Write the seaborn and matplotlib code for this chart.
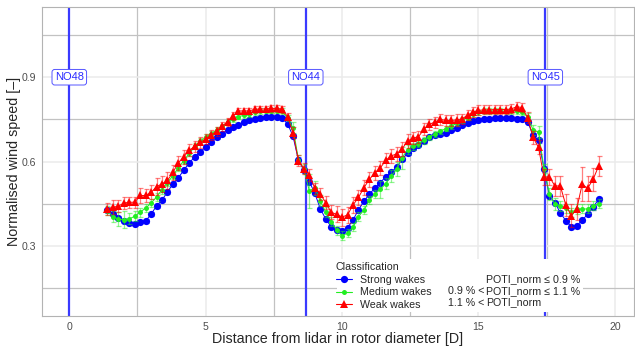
import numpy as np
import pandas as pd
import matplotlib
matplotlib.use("Agg")
import matplotlib.pyplot as plt
import seaborn as sns
from matplotlib.lines import Line2D
from matplotlib.patches import Rectangle

# ---------------- data ----------------
distance = [1.4, 1.6, 1.8, 2.0, 2.2, 2.4, 2.6, 2.8, 3.0, 3.2,
            3.4, 3.6, 3.8, 4.0, 4.2, 4.4, 4.6, 4.8, 5.0, 5.2,
            5.4, 5.6, 5.8, 6.0, 6.2, 6.4, 6.6, 6.8, 7.0, 7.2,
            7.4, 7.6, 7.8, 8.0, 8.2, 8.4, 8.6, 8.8, 9.0, 9.2,
            9.4, 9.6, 9.8, 10.0, 10.2, 10.4, 10.6, 10.8, 11.0, 11.2,
            11.4, 11.6, 11.8, 12.0, 12.2, 12.4, 12.6, 12.8, 13.0, 13.2,
            13.4, 13.6, 13.8, 14.0, 14.2, 14.4, 14.6, 14.8, 15.0, 15.2,
            15.4, 15.6, 15.8, 16.0, 16.2, 16.4, 16.6, 16.8, 17.0, 17.2,
            17.4, 17.6, 17.8, 18.0, 18.2, 18.4, 18.6, 18.8, 19.0, 19.2,
            19.4]

strong = [0.427, 0.413, 0.398, 0.389, 0.380, 0.376, 0.386, 0.388, 0.413, 0.442,
          0.463, 0.492, 0.520, 0.542, 0.570, 0.595, 0.617, 0.634, 0.652, 0.670,
          0.686, 0.699, 0.712, 0.722, 0.731, 0.740, 0.746, 0.752, 0.755, 0.759,
          0.760, 0.759, 0.754, 0.735, 0.690, 0.605, 0.568, 0.528, 0.487, 0.432,
          0.395, 0.368, 0.355, 0.354, 0.364, 0.392, 0.428, 0.458, 0.484, 0.505,
          0.525, 0.546, 0.562, 0.580, 0.608, 0.630, 0.648, 0.660, 0.672, 0.686,
          0.693, 0.698, 0.703, 0.713, 0.721, 0.731, 0.736, 0.745, 0.748, 0.752,
          0.752, 0.754, 0.756, 0.756, 0.756, 0.752, 0.752, 0.742, 0.693, 0.675,
          0.575, 0.478, 0.453, 0.418, 0.389, 0.368, 0.372, 0.390, 0.413, 0.437,
          0.465]
strong_err = [0.008, 0.007, 0.007, 0.006, 0.006, 0.006, 0.006, 0.006, 0.006, 0.006,
              0.006, 0.006, 0.006, 0.006, 0.006, 0.006, 0.006, 0.006, 0.006, 0.006,
              0.006, 0.006, 0.006, 0.006, 0.006, 0.006, 0.006, 0.006, 0.006, 0.006,
              0.006, 0.006, 0.006, 0.007, 0.008, 0.010, 0.008, 0.008, 0.007, 0.007,
              0.007, 0.007, 0.007, 0.007, 0.007, 0.007, 0.007, 0.007, 0.006, 0.006,
              0.006, 0.006, 0.006, 0.006, 0.006, 0.006, 0.006, 0.006, 0.006, 0.006,
              0.006, 0.006, 0.006, 0.006, 0.006, 0.006, 0.006, 0.006, 0.006, 0.006,
              0.006, 0.006, 0.006, 0.006, 0.006, 0.006, 0.006, 0.007, 0.008, 0.008,
              0.010, 0.008, 0.007, 0.007, 0.007, 0.007, 0.007, 0.007, 0.007, 0.008,
              0.010]

medium = [0.425, 0.404, 0.395, 0.393, 0.396, 0.405, 0.420, 0.434, 0.452, 0.474,
          0.500, 0.525, 0.550, 0.578, 0.603, 0.630, 0.655, 0.672, 0.686, 0.698,
          0.712, 0.725, 0.740, 0.752, 0.760, 0.764, 0.770, 0.776, 0.779, 0.781,
          0.781, 0.781, 0.779, 0.755, 0.720, 0.607, 0.572, 0.495, 0.507, 0.460,
          0.419, 0.386, 0.356, 0.336, 0.345, 0.366, 0.404, 0.427, 0.462, 0.484,
          0.501, 0.521, 0.548, 0.572, 0.613, 0.642, 0.654, 0.662, 0.675, 0.686,
          0.698, 0.707, 0.717, 0.725, 0.736, 0.748, 0.756, 0.768, 0.775, 0.780,
          0.780, 0.780, 0.781, 0.778, 0.778, 0.780, 0.775, 0.760, 0.713, 0.705,
          0.575, 0.484, 0.449, 0.442, 0.434, 0.419, 0.431, 0.431, 0.431, 0.442,
          0.450]
medium_err = [0.015, 0.020, 0.025, 0.030, 0.020, 0.018, 0.016, 0.015, 0.015, 0.014,
              0.014, 0.013, 0.013, 0.012, 0.012, 0.012, 0.011, 0.011, 0.011, 0.010,
              0.010, 0.010, 0.010, 0.010, 0.010, 0.010, 0.010, 0.010, 0.010, 0.010,
              0.010, 0.010, 0.010, 0.012, 0.020, 0.015, 0.018, 0.060, 0.025, 0.020,
              0.018, 0.016, 0.016, 0.016, 0.015, 0.015, 0.015, 0.015, 0.015, 0.015,
              0.030, 0.020, 0.020, 0.025, 0.040, 0.015, 0.012, 0.012, 0.012, 0.010,
              0.010, 0.010, 0.010, 0.010, 0.010, 0.010, 0.010, 0.010, 0.010, 0.010,
              0.010, 0.010, 0.010, 0.010, 0.010, 0.010, 0.010, 0.012, 0.018, 0.020,
              0.015, 0.020, 0.020, 0.018, 0.016, 0.016, 0.018, 0.016, 0.016, 0.016,
              0.016]

weak = [0.432, 0.437, 0.441, 0.452, 0.455, 0.455, 0.479, 0.479, 0.490, 0.511,
        0.520, 0.533, 0.561, 0.596, 0.617, 0.640, 0.654, 0.668, 0.680, 0.695,
        0.707, 0.725, 0.742, 0.762, 0.780, 0.780, 0.780, 0.786, 0.787, 0.787,
        0.789, 0.789, 0.786, 0.760, 0.702, 0.603, 0.575, 0.552, 0.505, 0.484,
        0.454, 0.419, 0.412, 0.402, 0.410, 0.445, 0.472, 0.507, 0.536, 0.560,
        0.577, 0.604, 0.620, 0.627, 0.645, 0.672, 0.684, 0.688, 0.715, 0.733,
        0.740, 0.750, 0.746, 0.746, 0.748, 0.752, 0.765, 0.776, 0.782, 0.784,
        0.784, 0.785, 0.785, 0.785, 0.787, 0.795, 0.792, 0.756, 0.686, 0.650,
        0.545, 0.545, 0.513, 0.513, 0.445, 0.407, 0.431, 0.519, 0.505, 0.536,
        0.583]
weak_err = [0.022, 0.025, 0.022, 0.022, 0.020, 0.020, 0.025, 0.022, 0.025, 0.030,
            0.030, 0.030, 0.028, 0.025, 0.025, 0.022, 0.020, 0.020, 0.018, 0.018,
            0.016, 0.015, 0.014, 0.013, 0.012, 0.012, 0.012, 0.012, 0.012, 0.012,
            0.012, 0.012, 0.012, 0.014, 0.020, 0.020, 0.020, 0.020, 0.020, 0.022,
            0.022, 0.025, 0.028, 0.030, 0.028, 0.030, 0.028, 0.028, 0.028, 0.025,
            0.025, 0.025, 0.025, 0.025, 0.025, 0.025, 0.022, 0.022, 0.022, 0.020,
            0.020, 0.020, 0.020, 0.020, 0.020, 0.018, 0.018, 0.018, 0.018, 0.016,
            0.016, 0.016, 0.016, 0.016, 0.016, 0.016, 0.016, 0.020, 0.022, 0.025,
            0.030, 0.030, 0.035, 0.035, 0.040, 0.040, 0.040, 0.060, 0.045, 0.040,
            0.035]

classes = ["Strong wakes", "Medium wakes", "Weak wakes"]
cond_left = ["", "0.9 % <", "1.1 % <"]
cond_right = ["POTI_norm \u2264 0.9 %", "POTI_norm \u2264 1.1 %", "POTI_norm"]
turbine_names = ["NO48", "NO44", "NO45"]
turbine_pos = [0.0, 8.67, 17.45]

# ---------------- style ----------------
sns.set_style("white")
plt.rcParams["font.family"] = ["Liberation Sans", "DejaVu Sans"]

W, H = 635, 348
fig = plt.figure(figsize=(W / 100, H / 100), dpi=100)
ax = fig.add_axes([42 / W, 1 - 316 / H, (634 - 42) / W, (316 - 7) / H])

colors = {"Strong wakes": "#0000ff", "Medium wakes": "#22ee22", "Weak wakes": "#ff0000"}
markers = {"Strong wakes": "o", "Medium wakes": "o", "Weak wakes": "^"}
msizes = {"Strong wakes": 5.2, "Medium wakes": 3.6, "Weak wakes": 5.6}

frames = []
for cls, y, e in zip(classes, [strong, medium, weak], [strong_err, medium_err, weak_err]):
    frames.append(pd.DataFrame({"distance": distance, "speed": y, "err": e, "cls": cls}))
df = pd.concat(frames, ignore_index=True)

ax.set_xlim(-1.0, 20.7)
ax.set_ylim(0.05, 1.15)

# grid
ax.set_xticks([0, 5, 10, 15, 20])
ax.set_yticks([0.3, 0.6, 0.9])
ax.set_xticks([2.5, 7.5, 12.5, 17.5], minor=True)
ax.set_yticks([0.15, 0.45, 0.75, 1.05], minor=True)
ax.set_yticklabels(["0.3", "0.6", "0.9"])
ax.grid(which="major", color="#ebebeb", linewidth=1.1)
ax.grid(which="minor", color="#c2c2c2", linewidth=0.9)
ax.set_axisbelow(True)

for pos in turbine_pos:
    ax.axvline(pos, color="#3a3aff", linewidth=1.6, zorder=2)

for i, cls in enumerate(classes):
    sub = df[df["cls"] == cls]
    c = colors[cls]
    ax.errorbar(sub["distance"], sub["speed"], yerr=sub["err"], fmt="none",
                ecolor=c, alpha=0.5, elinewidth=0.9, capsize=1.8, capthick=0.9,
                zorder=3 + i)
    sns.lineplot(data=sub, x="distance", y="speed", color=c, marker=markers[cls],
                 markersize=msizes[cls], markeredgewidth=0, linewidth=0.7,
                 ax=ax, legend=False, errorbar=None, sort=False, zorder=3.5 + i)

for name, pos in zip(turbine_names, turbine_pos):
    ax.text(pos, 0.9, name, ha="center", va="center", color="#2a2aff", fontsize=8,
            zorder=8,
            bbox=dict(boxstyle="round,pad=0.25,rounding_size=0.25", fc="white",
                      ec="#5555ff", lw=0.7))

for s in ax.spines.values():
    s.set_color("#b3b3b3")
    s.set_linewidth(0.8)
ax.tick_params(which="major", length=2.5, width=0.8, color="#555555",
               labelsize=7.6, labelcolor="#4d4d4d", pad=1.5)
ax.tick_params(which="minor", length=0)

ax.set_xlabel("Distance from lidar in rotor diameter [D]", fontsize=10.3, labelpad=0)
ax.set_ylabel("Normalised wind speed [\u2013]", fontsize=10.3, labelpad=0.8)

# legend background
rect = Rectangle((337 / W, 1 - 312 / H), (583 - 337) / W, (312 - 259) / H,
                 transform=fig.transFigure, facecolor="white", edgecolor="none",
                 zorder=6, clip_on=False)
ax.add_patch(rect)

handles = [Line2D([0], [0], color=colors[c], marker=markers[c], markersize=msizes[c],
                  markeredgewidth=0, linewidth=0.8) for c in classes]
leg = ax.legend(handles, classes, title="Classification", loc="upper left",
                bbox_to_anchor=(336 / W, 1 - 262 / H), bbox_transform=fig.transFigure,
                frameon=False, fontsize=7.7, title_fontsize=7.7, borderpad=0,
                handlelength=1.5, handletextpad=0.7, labelspacing=0.25,
                alignment="left", borderaxespad=0)
leg.set_zorder(7)

row_y = [279.5, 291.0, 302.5]
for ly, l, r in zip(row_y, cond_left, cond_right):
    if l:
        ax.text(484 / W, 1 - ly / H, l, transform=fig.transFigure, ha="right",
                va="center", fontsize=7.7, zorder=8)
    ax.text(486 / W, 1 - ly / H, r, transform=fig.transFigure, ha="left",
            va="center", fontsize=7.7, zorder=8)

fig.savefig("out.png", dpi=100)
